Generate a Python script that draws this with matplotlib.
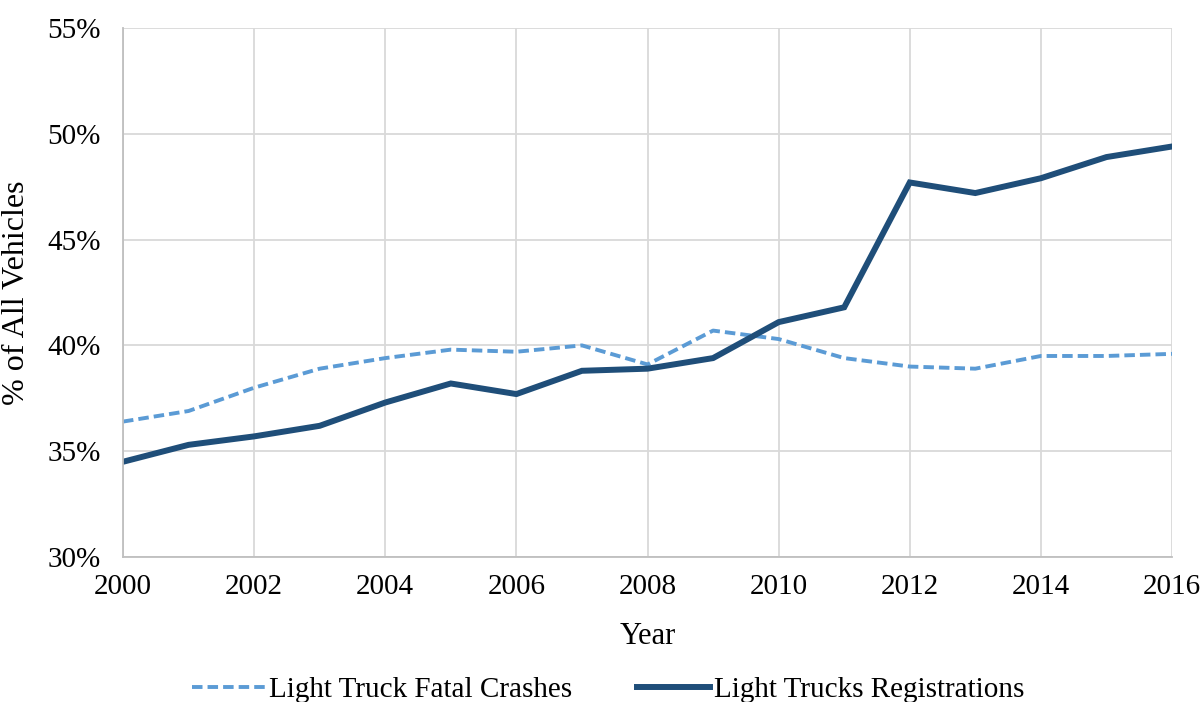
import matplotlib.pyplot as plt
from matplotlib.ticker import FuncFormatter, MultipleLocator

# values (% of all vehicles)
years = list(range(2000, 2017))
fatal_crashes = [36.4, 36.9, 38.0, 38.9, 39.4, 39.8, 39.7, 40.0, 39.1, 40.7,
                 40.3, 39.4, 39.0, 38.9, 39.5, 39.5, 39.6]
registrations = [34.5, 35.3, 35.7, 36.2, 37.3, 38.2, 37.7, 38.8, 38.9, 39.4,
                 41.1, 41.8, 47.7, 47.2, 47.9, 48.9, 49.4]

plt.rcParams['font.family'] = ['Liberation Serif', 'DejaVu Serif']

fig = plt.figure(figsize=(12.02, 7.02), dpi=100)
ax = fig.add_axes([123 / 1202, 1 - 557 / 702, (1172 - 123) / 1202, (557 - 28) / 702])

ax.plot(years, fatal_crashes, color='#5B9BD5', lw=2.8, dashes=(2.7, 1.3),
        label='Light Truck Fatal Crashes')
ax.plot(years, registrations, color='#1F4E79', lw=4.3,
        label='Light Trucks Registrations', solid_joinstyle='miter')

ax.set_xlim(2000, 2016)
ax.set_ylim(30, 55)
ax.xaxis.set_major_locator(MultipleLocator(2))
ax.yaxis.set_major_locator(MultipleLocator(5))
ax.yaxis.set_major_formatter(FuncFormatter(lambda v, p: f'{v:.0f}%'))

ax.grid(True, color='#D9D9D9', lw=1.3)
ax.set_axisbelow(True)
for s in ['top', 'right']:
    ax.spines[s].set_visible(False)
for s in ['left', 'bottom']:
    ax.spines[s].set_color('#BFBFBF')
    ax.spines[s].set_linewidth(1.3)
ax.tick_params(length=0, labelsize=21)
ax.tick_params(axis='y', pad=16)
ax.tick_params(axis='x', pad=12)

ax.set_xlabel('Year', fontsize=22, labelpad=16)
ax.set_ylabel('% of All Vehicles', fontsize=23, labelpad=12)

fig.legend(loc='center', bbox_to_anchor=(0.506, 1 - 690 / 702), ncol=2,
           frameon=False, fontsize=21, handlelength=2.5, columnspacing=2.2,
           handletextpad=0.15)

fig.savefig('out.png', dpi=100)
